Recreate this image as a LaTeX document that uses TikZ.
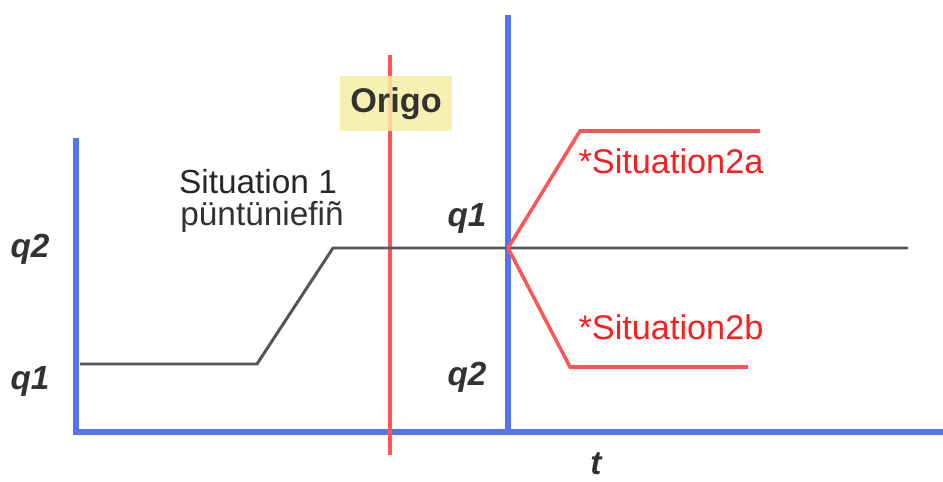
\documentclass[tikz,border=0pt]{standalone}
\usepackage{fontspec}
\setmainfont{Liberation Sans}
\usepackage{tikz}

\definecolor{axisblue}{RGB}{85,115,235}
\definecolor{origored}{RGB}{255,85,85}
\definecolor{labelred}{RGB}{250,30,30}
\definecolor{pathgray}{RGB}{85,85,85}
\definecolor{textgray}{RGB}{50,50,50}
\definecolor{origoyellow}{RGB}{245,238,165}

\tikzset{
  axisline/.style={-,line width=3pt,axisblue},
  redline/.style={-,line width=2pt,origored},
  grayline/.style={-,line width=1.7pt,pathgray},
  qlabel/.style={font=\fontsize{19}{22}\selectfont\bfseries\itshape,text=textgray},
  sitlabel/.style={font=\fontsize{19.5}{22}\selectfont,text=labelred}
}

\begin{document}
\begin{tikzpicture}[x=0.02cm,y=-0.02cm]
      \useasboundingbox (0,0) rectangle (943,482);
      \draw [axisline] (76,138) -- (76,432) -- (943,432);
      \draw [axisline] (508,15) -- (508,432);
      \draw [redline] (390,55) -- (390,455);
      \fill [origoyellow,opacity=0.85] (340,76) rectangle (452,131);
      \node [font=\fontsize{19.5}{22}\selectfont\bfseries,text=textgray] (origo) at (396,104) {Origo};
      \draw [grayline] (80,364) -- (257,364) -- (333,248) -- (908,248);
      \draw [redline] (760,131) -- (580,131) -- (508,248) -- (570,367) -- (748,367);
      \node [qlabel] (q2left) at (30,249) {q2};
      \node [qlabel] (q1left) at (30,381) {q1};
      \node [qlabel] (q1mid) at (467,218) {q1};
      \node [qlabel] (q2mid) at (467,377) {q2};
      \node [qlabel,inner sep=0pt] (tlabel) at (596,464) {t};
      \node [font=\fontsize{19}{22}\selectfont,text=black!85,inner sep=0pt] (sit1) at (258,182) {Situation 1};
      \node [font=\fontsize{19}{22}\selectfont,text=textgray,inner sep=0pt] (sit1sub) at (262,217) {püntüniefiñ};
      \node [sitlabel] (sit2a) at (671,161) {*Situation2a};
      \node [sitlabel] (sit2b) at (671,327) {*Situation2b};
    \end{tikzpicture}
\end{document}
